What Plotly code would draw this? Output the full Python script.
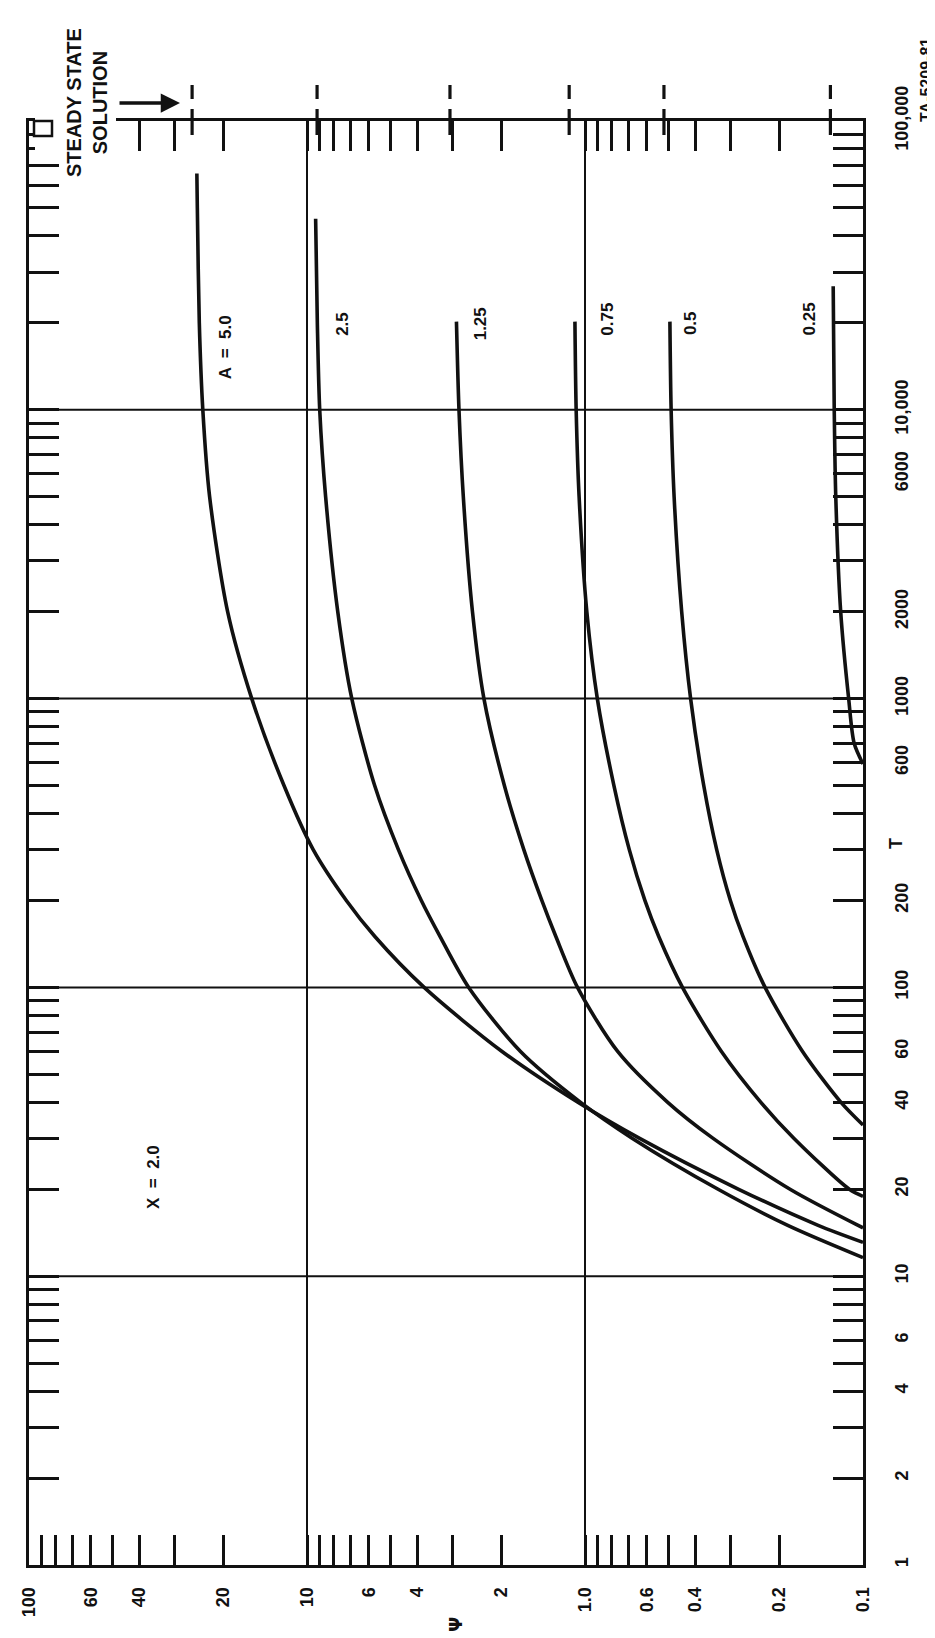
import math
import plotly.graph_objects as go

# ---------------- data ----------------
# Psi (horizontal, log, 100 at left -> 0.1 at right) versus T (vertical, log, 1 -> 100,000)
CURVE_NAMES = ["A  =  5.0", "2.5", "1.25", "0.75", "0.5", "0.25"]

T_A5 = [13.1, 15, 20, 30, 40, 60, 100, 150, 200, 300, 500, 1000, 2000, 5000, 10000, 20000, 50000, 65800]
PSI_A5 = [0.10, 0.145, 0.28, 0.636, 1.061, 1.988, 3.79, 5.70, 7.22, 9.5, 12.1, 15.8, 19.3, 22.4, 23.7, 24.4, 24.8, 24.9]

T_A25 = [11.6, 15, 20, 30, 40, 60, 100, 150, 200, 300, 500, 1000, 2000, 5000, 10000, 20000, 45900]
PSI_A25 = [0.10, 0.1865, 0.332, 0.675, 1.037, 1.706, 2.62, 3.32, 3.88, 4.69, 5.71, 6.90, 7.75, 8.57, 9.0, 9.18, 9.31]

T_A125 = [14.7, 20, 30, 40, 60, 100, 150, 200, 300, 500, 1000, 2000, 5000, 10000, 20200]
PSI_A125 = [0.10, 0.183, 0.346, 0.504, 0.763, 1.064, 1.273, 1.43, 1.66, 1.95, 2.31, 2.54, 2.74, 2.84, 2.90]

T_A075 = [18.9, 20, 30, 40, 60, 100, 150, 200, 300, 500, 1000, 2000, 5000, 10000, 20200]
PSI_A075 = [0.10, 0.112, 0.177, 0.233, 0.323, 0.446, 0.543, 0.609, 0.693, 0.787, 0.903, 0.985, 1.05, 1.076, 1.087]

T_A05 = [33.4, 40, 60, 100, 150, 200, 300, 500, 1000, 2000, 5000, 10000, 20200]
PSI_A05 = [0.10, 0.120, 0.165, 0.225, 0.27, 0.30, 0.336, 0.374, 0.417, 0.449, 0.478, 0.490, 0.495]

T_A025 = [594, 700, 1000, 2000, 5000, 10000, 26800]
PSI_A025 = [0.10, 0.1076, 0.1126, 0.1203, 0.1253, 0.1269, 0.128]

# steady state solution marks (Psi) at the top edge
STEADY_PSI = [25.9, 9.2, 3.06, 1.14, 0.52, 0.131]

# curve label positions (Psi, T)
LABEL_PSI = [19.5, 7.46, 2.37, 0.83, 0.417, 0.156]
LABEL_T = [16500, 19900, 19900, 20600, 19900, 20600]

# tick labels
PSI_TICK_LABELS = {100: "100", 60: "60", 40: "40", 20: "20", 10: "10", 6: "6", 4: "4", 2: "2",
                   1: "1.0", 0.6: "0.6", 0.4: "0.4", 0.2: "0.2", 0.1: "0.1"}
T_TICK_LABELS = {1: "1", 2: "2", 4: "4", 6: "6", 10: "10", 20: "20", 40: "40", 60: "60",
                 100: "100", 200: "200", 600: "600", 1000: "1000", 2000: "2000",
                 6000: "6000", 10000: "10,000", 100000: "100,000"}
GRID_PSI = [1, 10]
GRID_T = [10, 100, 1000, 10000]

# ---------------- figure ----------------
FONT = "Liberation Sans"
INK = "#111111"
W, H = 935, 1638
ML, MR, MT, MB = 21, 80, 113, 81

psi_ticks = [round(m * 10 ** k, 6) for k in (-1, 0, 1) for m in range(1, 10)] + [100]
psi_text = [PSI_TICK_LABELS.get(v, "") for v in psi_ticks]
t_ticks = [m * 10 ** k for k in range(0, 5) for m in range(1, 10)] + [100000]
t_text = [T_TICK_LABELS.get(v, "") for v in t_ticks]

pw, ph = W - ML - MR, H - MT - MB


def px(xpix):
    return (xpix - ML) / pw


def py(ypix):
    return (H - MB - ypix) / ph


fig = go.Figure()

curves = [(PSI_A5, T_A5), (PSI_A25, T_A25), (PSI_A125, T_A125),
          (PSI_A075, T_A075), (PSI_A05, T_A05), (PSI_A025, T_A025)]
for (p, t), name in zip(curves, CURVE_NAMES):
    fig.add_trace(go.Scatter(
        x=p, y=t, mode="lines", name=name,
        line=dict(color=INK, width=3.6, shape="spline", smoothing=0.8),
        hoverinfo="skip", showlegend=False))

shapes = []
for v in GRID_PSI:
    shapes.append(dict(type="line", xref="x", yref="paper", x0=v, x1=v, y0=0, y1=1,
                       line=dict(color=INK, width=2), layer="below"))
for v in GRID_T:
    shapes.append(dict(type="line", xref="paper", yref="y", x0=0, x1=1, y0=v, y1=v,
                       line=dict(color=INK, width=2), layer="below"))

# steady-state dashed marks across the top edge (two dashes each)
for v in STEADY_PSI:
    for (ya, yb) in ((77, 91), (101, 127)):
        shapes.append(dict(type="line", xref="x", yref="paper", x0=v, x1=v, y0=py(yb), y1=py(ya),
                           line=dict(color=INK, width=3.2), layer="above"))

# blank corner where the "steady state" note sits, plus the small box glyph
shapes.append(dict(type="rect", xref="paper", yref="paper", x0=px(27), x1=px(108), y0=py(146), y1=py(96),
                   fillcolor="white", line=dict(width=0), layer="above"))
shapes.append(dict(type="rect", xref="paper", yref="paper", x0=px(26), x1=px(44), y0=py(128), y1=py(113),
                   fillcolor="rgba(0,0,0,0)", line=dict(color=INK, width=2.5), layer="above"))


def note(x, y, text, size=17, family=FONT, xref="paper", yref="paper", **kw):
    d = dict(x=x, y=y, xref=xref, yref=yref, text=text, showarrow=False, textangle=-90,
             xanchor="center", yanchor="middle",
             font=dict(family=family, size=size, color=INK, weight="bold"))
    d.update(kw)
    return d


annotations = []
for name, lp, lt in zip(CURVE_NAMES, LABEL_PSI, LABEL_T):
    annotations.append(note(math.log10(lp), math.log10(lt), name, xref="x", yref="y"))
annotations.append(note(math.log10(35.6), math.log10(22), "X  =  2.0", xref="x", yref="y"))
annotations.append(note(px(79), py(95), "STEADY STATE<br>SOLUTION", size=20, align="center"))
annotations.append(dict(x=px(172), y=py(95), xref="paper", yref="paper", text="",
                        showarrow=True, ax=-62, ay=0, arrowhead=2, arrowsize=1.1, arrowwidth=3.5,
                        arrowcolor=INK))
annotations.append(note(px(888), py(836), "T", size=18))
annotations.append(note(px(447), py(1617), "Ψ", size=18, family="DejaVu Sans"))
annotations.append(note(px(918), py(72), "TA-5209-81", size=16))

axis_common = dict(type="log", autorange=False, ticks="inside", ticklen=30, tickwidth=2.5,
                   tickcolor=INK, showline=True, linewidth=3, linecolor=INK,
                   mirror="ticks", showgrid=False, zeroline=False, tickangle=-90,
                   tickfont=dict(family=FONT, size=18, color=INK, weight="bold"))

fig.update_layout(
    width=W, height=H, autosize=False,
    margin=dict(l=ML, r=MR, t=MT, b=MB, pad=0),
    paper_bgcolor="white", plot_bgcolor="white",
    xaxis=dict(range=[2, -1], tickvals=psi_ticks, ticktext=psi_text, ticklabelstandoff=12, **axis_common),
    yaxis=dict(range=[0, 5], side="right", tickvals=t_ticks, ticktext=t_text, ticklabelstandoff=20,
               **axis_common),
    shapes=shapes, annotations=annotations, hovermode=False, showlegend=False,
)

fig.write_html("out.html")
